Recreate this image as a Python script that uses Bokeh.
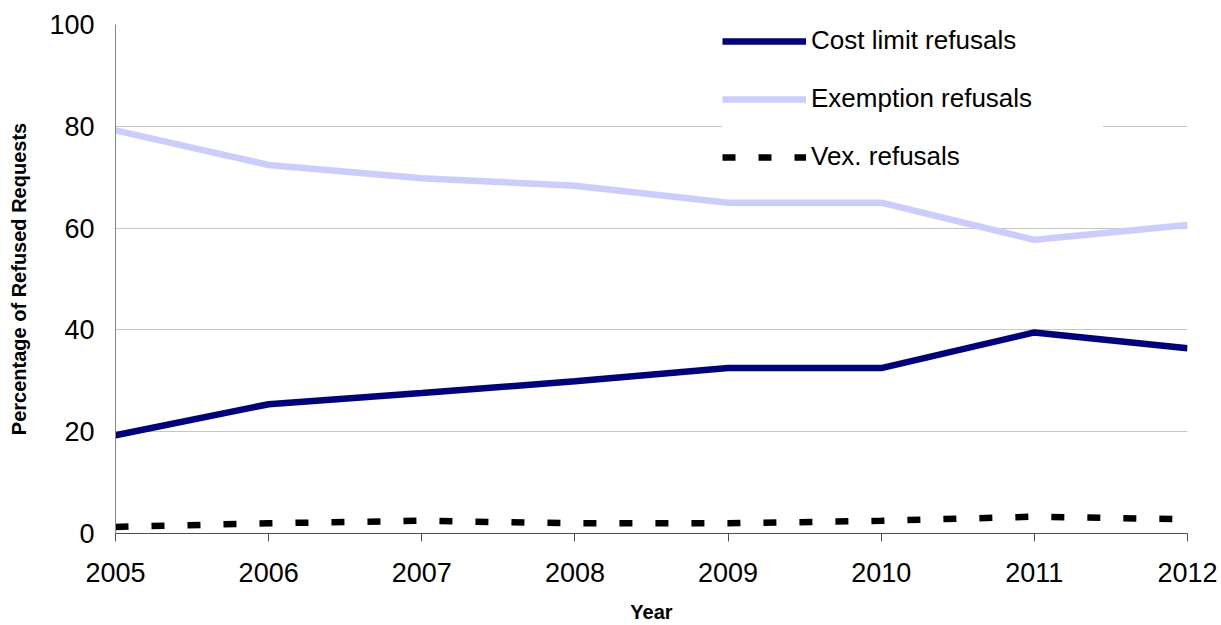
from bokeh.plotting import figure
from bokeh.models import Legend, LegendItem, FixedTicker
from bokeh.embed import file_html
from bokeh.resources import INLINE

# Share of refused requests by refusal type, per year (%)
years = [2005, 2006, 2007, 2008, 2009, 2010, 2011, 2012]
year_labels = ["2005", "2006", "2007", "2008", "2009", "2010", "2011", "2012"]
cost_limit = [19.3, 25.4, 27.6, 29.9, 32.5, 32.5, 39.5, 36.4]
exemption = [79.2, 72.4, 69.8, 68.3, 65.0, 65.0, 57.7, 60.6]
vexatious = [1.3, 2.0, 2.5, 2.0, 2.0, 2.5, 3.3, 2.8]
y_ticks = [0, 20, 40, 60, 80, 100]

FONT = "Liberation Sans"

p = figure(
    width=1221, height=625,
    x_range=(years[0], years[-1]), y_range=(0, 100),
    output_backend="svg", toolbar_location=None,
    min_border_left=115, min_border_right=34,
    min_border_top=24, min_border_bottom=91,
)
p.outline_line_color = None
p.background_fill_color = "white"
p.border_fill_color = "white"

# grid
p.xgrid.grid_line_color = None
p.ygrid.grid_line_color = "#C6C6C6"
p.ygrid.grid_line_width = 1

# x axis
p.xaxis.ticker = FixedTicker(ticks=years)
p.xaxis.major_label_overrides = {y: s for y, s in zip(years, year_labels)}
p.xaxis.axis_line_color = "#4D4D4D"
p.xaxis.major_tick_line_color = "#4D4D4D"
p.xaxis.major_tick_out = 8
p.xaxis.major_tick_in = 0
p.xaxis.minor_tick_line_color = None
p.xaxis.major_label_standoff = 21
p.xaxis.axis_label = "Year"
p.xaxis.axis_label_standoff = 16

# y axis
p.yaxis.ticker = FixedTicker(ticks=y_ticks)
p.yaxis.axis_line_color = "#868686"
p.yaxis.major_tick_line_color = None
p.yaxis.major_tick_out = 0
p.yaxis.major_tick_in = 0
p.yaxis.minor_tick_line_color = None
p.yaxis.major_label_standoff = 21
p.yaxis.axis_label = "Percentage of Refused Requests"
p.yaxis.axis_label_standoff = 16

for ax in (p.xaxis, p.yaxis):
    ax.major_label_text_font = FONT
    ax.major_label_text_font_size = "27px"
    ax.major_label_text_color = "black"
    ax.axis_label_text_font = FONT
    ax.axis_label_text_font_size = "20px"
    ax.axis_label_text_font_style = "bold"
    ax.axis_label_text_color = "black"

# series
r_cost = p.line(years, cost_limit, line_color="#000080", line_width=6.5)
r_exem = p.line(years, exemption, line_color="#CCCCFF", line_width=6.5)
r_vex = p.line(years, vexatious, line_color="black", line_width=6.5,
               line_dash="13 23")

legend = Legend(
    items=[
        LegendItem(label="Cost limit refusals", renderers=[r_cost]),
        LegendItem(label="Exemption refusals", renderers=[r_exem]),
        LegendItem(label="Vex. refusals", renderers=[r_vex]),
    ],
    location=(607, 361),
    orientation="vertical",
    glyph_width=84, glyph_height=30,
    label_height=30, label_width=292,
    label_standoff=5, spacing=27, padding=10, margin=0,
    label_text_font=FONT, label_text_font_size="26px",
    label_text_color="black",
    border_line_color=None,
    background_fill_color="white", background_fill_alpha=1.0,
)
p.add_layout(legend, "center")

open("out.html", "w").write(file_html(p, INLINE))
